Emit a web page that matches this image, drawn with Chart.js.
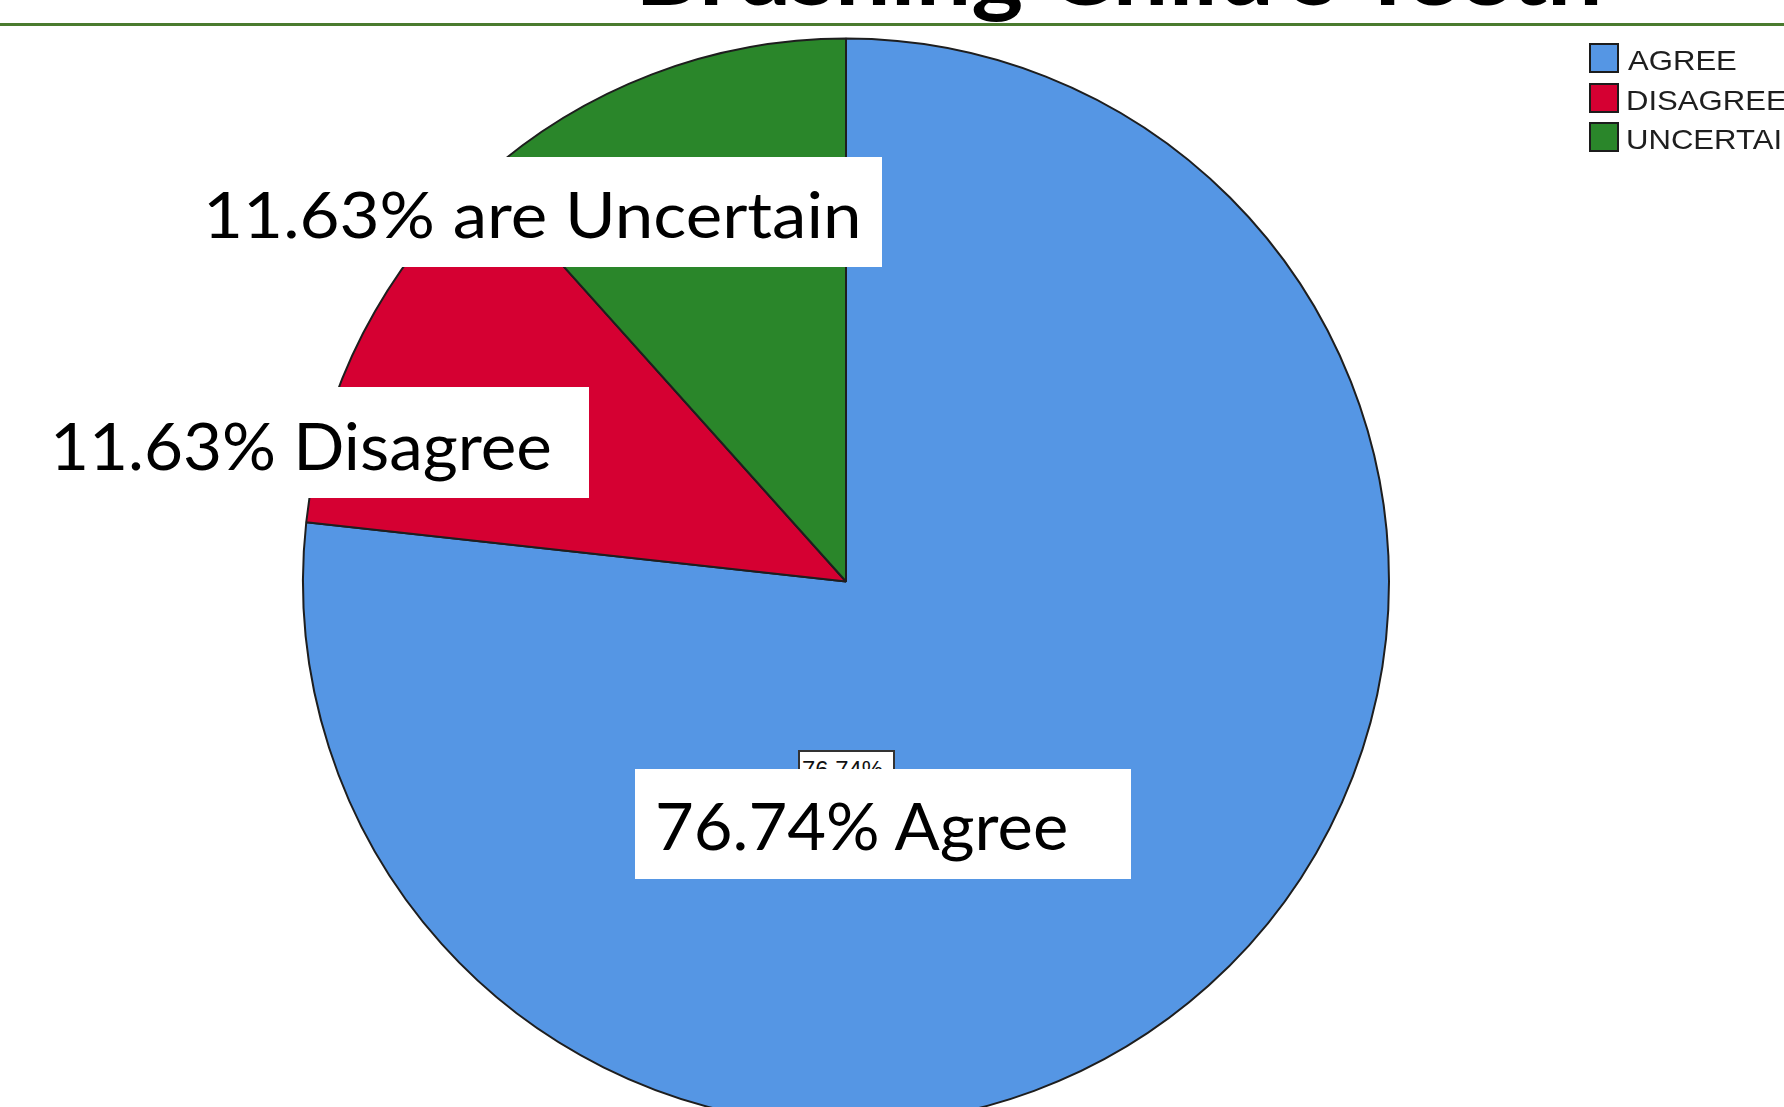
<!DOCTYPE html>
<html>
<head>
<meta charset="utf-8">
<script src="https://cdn.jsdelivr.net/npm/chart.js@4.4.1/dist/chart.umd.min.js"></script>
<style>
html,body{margin:0;padding:0;width:1784px;height:1107px;overflow:hidden;background:#fff;}
#stage{position:relative;width:1784px;height:1107px;overflow:hidden;background:#fff;}
#titleClip{position:absolute;left:0;top:0;width:1784px;height:23px;overflow:hidden;}
#rule{position:absolute;left:0;top:23px;width:1784px;height:3px;background:#4a7b2f;}
#chart{position:absolute;left:0;top:0;}
.t{position:absolute;white-space:nowrap;transform-origin:0 0;color:#000;margin:0;padding:0;}
.box{position:absolute;background:#fff;}
.lgsq{position:absolute;box-sizing:border-box;border:2.5px solid #1c1c1c;}
.small{position:absolute;box-sizing:border-box;background:#fff;border:2px solid #333;}
</style>
</head>
<body>
<div id="stage">
  <div id="titleClip"><span class="t" id="title"></span></div>
  <div id="rule"></div>
  <canvas id="chart" width="1784" height="1200"></canvas>
  <div id="overlay"></div>
</div>
<script>
// ---- data ----
const categories = ['AGREE', 'DISAGREE', 'UNCERTAIN'];
const percentages = [76.74, 11.63, 11.63];
const annotationWords = ['Agree', 'Disagree', 'are Uncertain'];
const sliceColors = ['#5596E4', '#D50032', '#2A862A'];
const titleText = "Brushing Child's Teeth";

// ---- chart ----
new Chart(document.getElementById('chart').getContext('2d'), {
  type: 'pie',
  data: {
    labels: categories,
    datasets: [{
      data: percentages,
      backgroundColor: sliceColors,
      borderColor: '#1e1e1e',
      borderWidth: 2,
      hoverOffset: 0,
      radius: 543
    }]
  },
  options: {
    responsive: false,
    animation: false,
    events: [],
    layout: { padding: { left: 200, right: 292, top: 20, bottom: 57 } },
    plugins: { legend: { display: false }, tooltip: { enabled: false }, title: { display: false } }
  }
});

// ---- text helpers ----
const mctx = document.createElement('canvas').getContext('2d');
function place(el, o) {
  const fontStr = (w, s) => `${w} ${s}px ${o.family}`;
  mctx.font = fontStr(o.weight, 100);
  const capRatio = mctx.measureText('H').actualBoundingBoxAscent / 100;
  const size = o.cap / capRatio;
  const f = fontStr(o.weight, size);
  el.style.font = f;
  el.style.lineHeight = size + 'px';
  mctx.font = f;
  const m = mctx.measureText(el.textContent);
  const ink = m.actualBoundingBoxLeft + m.actualBoundingBoxRight;
  const sx = o.right ? (o.right - o.left) / ink : (o.sx || 1);
  const fa = m.fontBoundingBoxAscent, fd = m.fontBoundingBoxDescent;
  const baseOff = (size - (fa + fd)) / 2 + fa;
  el.style.top = (o.baseline - baseOff) + 'px';
  el.style.left = (o.left + m.actualBoundingBoxLeft * sx) + 'px';
  el.style.transform = `scaleX(${sx})`;
  if (o.color) el.style.color = o.color;
}

const overlay = document.getElementById('overlay');
function addBox(l, t, r, b) {
  const d = document.createElement('div');
  d.className = 'box';
  d.style.left = l + 'px'; d.style.top = t + 'px';
  d.style.width = (r - l) + 'px'; d.style.height = (b - t) + 'px';
  overlay.appendChild(d);
}
function addText(txt, o) {
  const s = document.createElement('span');
  s.className = 't';
  s.textContent = txt;
  overlay.appendChild(s);
  place(s, o);
}

// title (mostly hidden behind the picture)
const tEl = document.getElementById('title');
tEl.textContent = titleText;
place(tEl, { family: 'Lato', weight: 'bold', cap: 67, left: 643, right: 1601, baseline: 5 });

// small inner SPSS label (partly hidden)
const sm = document.createElement('div');
sm.className = 'small';
sm.style.left = '798px'; sm.style.top = '750px'; sm.style.width = '97px'; sm.style.height = '34px';
overlay.appendChild(sm);
addText(percentages[0].toFixed(2) + '%', { family: '"Liberation Sans"', weight: 'normal', cap: 17, left: 803, right: 883, baseline: 779, color: '#111' });

// annotation boxes
addBox(190, 157, 882, 267);
addText(percentages[2].toFixed(2) + '% ' + annotationWords[2], { family: 'Lato', weight: 'normal', cap: 47, left: 208, right: 857, baseline: 238 });
addBox(30, 387, 589, 498);
addText(percentages[1].toFixed(2) + '% ' + annotationWords[1], { family: 'Lato', weight: 'normal', cap: 48, left: 55, right: 550, baseline: 470 });
addBox(635, 769, 1131, 879);
addText(percentages[0].toFixed(2) + '% ' + annotationWords[0], { family: 'Lato', weight: 'normal', cap: 47.5, left: 658, right: 1068, baseline: 851 });

// legend
categories.forEach((c, i) => {
  const top = 43 + i * 39.5;
  const q = document.createElement('div');
  q.className = 'lgsq';
  q.style.left = '1589px'; q.style.top = top + 'px';
  q.style.width = '30px'; q.style.height = '30px';
  q.style.background = sliceColors[i];
  overlay.appendChild(q);
  addText(c, { family: '"Liberation Sans"', weight: 'normal', cap: 19, left: 1628, sx: 1.13, baseline: top + 27.5, color: '#1e1e1e' });
});
</script>
</body>
</html>
